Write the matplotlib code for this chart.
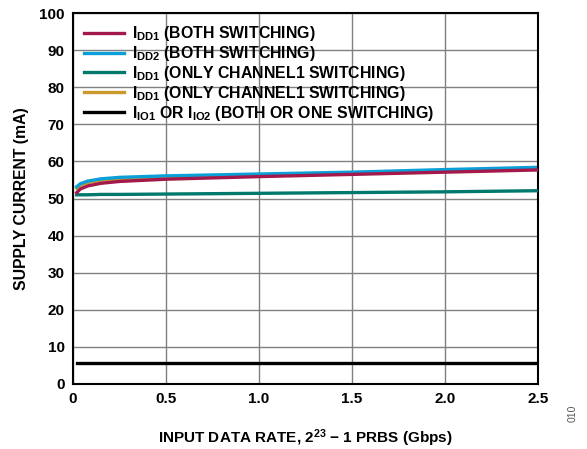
import numpy as np
import matplotlib.pyplot as plt

plt.rcParams['font.family'] = ['Liberation Sans', 'DejaVu Sans']
plt.rcParams['font.weight'] = 'bold'
plt.rcParams['axes.labelweight'] = 'bold'
plt.rcParams['mathtext.default'] = 'regular'

# data
rate = [0.02, 0.04, 0.08, 0.15, 0.25, 0.5, 1.0, 1.5, 2.0, 2.5]
idd1_both = [51.6, 52.6, 53.4, 54.1, 54.6, 55.2, 55.9, 56.5, 57.1, 57.7]
idd2_both = [53.2, 54.0, 54.7, 55.3, 55.7, 56.1, 56.6, 57.1, 57.8, 58.4]
idd1_ch1 = [51.0, 51.0, 51.0, 51.1, 51.1, 51.2, 51.4, 51.6, 51.8, 52.1]
idd1_ch1b = [52.8, 53.6, 54.3, 54.9, 55.3, 55.8, 56.3, 56.8, 57.4, 57.9]
iio = [5.6, 5.6, 5.6, 5.6, 5.6, 5.6, 5.6, 5.6, 5.6, 5.6]

fig = plt.figure(figsize=(5.87, 4.49), dpi=100)
ax = fig.add_axes([0.1244, 0.1448, 0.7921, 0.8262])

lw = 2.4
ax.plot(rate, idd1_both, color='#A3194B', lw=lw, label='I$_{DD1}$ (BOTH SWITCHING)', zorder=4)
ax.plot(rate, idd2_both, color='#0A9FD6', lw=lw, label='I$_{DD2}$ (BOTH SWITCHING)', zorder=2)
ax.plot(rate, idd1_ch1, color='#00786C', lw=lw, label='I$_{DD1}$ (ONLY CHANNEL1 SWITCHING)', zorder=3)
ax.plot(rate, idd1_ch1b, color='#C9992C', lw=lw, label='I$_{DD1}$ (ONLY CHANNEL1 SWITCHING)', zorder=1.5)
ax.plot(rate, iio, color='black', lw=lw, label='I$_{IO1}$ OR I$_{IO2}$ (BOTH OR ONE SWITCHING)', zorder=3)

ax.set_xlim(0, 2.5)
ax.set_ylim(0, 100)
ax.set_xticks([0, 0.5, 1.0, 1.5, 2.0, 2.5], labels=['0', '0.5', '1.0', '1.5', '2.0', '2.5'])
ax.set_yticks(np.arange(0, 101, 10))
ax.tick_params(length=0, labelsize=11, pad=6)
ax.grid(True, color='#808080', lw=1)
ax.set_axisbelow(True)
for s in ax.spines.values():
    s.set_linewidth(1.5)

ax.set_xlabel('INPUT DATA RATE, 2$^{23}$ − 1 PRBS (Gbps)', fontsize=11, labelpad=15)
ax.set_ylabel('SUPPLY CURRENT (mA)', fontsize=11.3, labelpad=7)

leg = ax.legend(loc='upper left', frameon=False, fontsize=11.4, handlelength=2.5,
                labelspacing=0.06, borderaxespad=0.3, handletextpad=0.55)

fig.text(0.975, 0.06, '010', rotation=90, fontsize=7.5, color='#555555',
         fontweight='normal', ha='center', va='bottom')

fig.savefig('out.png', dpi=100)
